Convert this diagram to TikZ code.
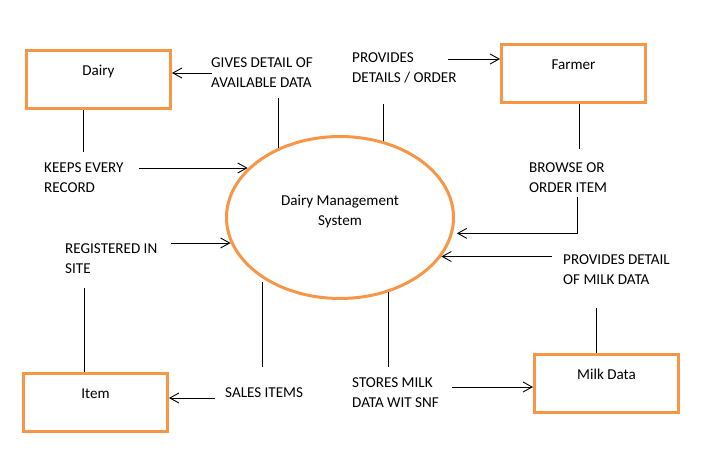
\documentclass[tikz,border=0pt]{standalone}
\usepackage{fontspec}
\setmainfont{Carlito}
\usetikzlibrary{arrows.meta,shapes.geometric}
\definecolor{boxorange}{HTML}{F79646}
\tikzset{
  entity/.style={draw=boxorange, line width=3pt, rectangle, minimum width=144pt, minimum height=58pt,
    inner xsep=0pt, inner ysep=4pt, text height=21pt, text depth=29pt},
  process/.style={draw=boxorange, line width=3pt, ellipse, minimum width=227pt, minimum height=162pt,
    inner sep=0pt, align=center, text depth=15pt},
  flowlabel/.style={anchor=north west, align=left, inner sep=0pt},
  flow/.style={-{Straight Barb[length=9pt,width=10pt]}, line width=0.9pt},
  plain/.style={line width=0.9pt}
}
\begin{document}
\begin{tikzpicture}[x=1pt,y=-1pt,font=\fontsize{15.1}{20}\selectfont]
        \useasboundingbox (0,0) rectangle (718,455);
        % the four entities and the system
        \node[entity]  (dairy)  at ( 98.5, 79.5) {Dairy};
        \node[entity]  (farmer) at (573.5, 73.5) {Farmer};
        \node[entity]  (item)   at ( 95.5,402.5) {Item};
        \node[entity]  (milk)   at (606.5,383.5) {Milk Data};
        \node[process] (sys)    at (340,217.5)   {Dairy Management\\System};
        % labels of the flows
        \node[flowlabel] (keeps)      at ( 44,162.3) {KEEPS EVERY\\RECORD};
        \node[flowlabel] (gives)      at (211, 57.3) {GIVES DETAIL OF\\AVAILABLE DATA};
        \node[flowlabel] (provides)   at (352, 52.3) {PROVIDES\\DETAILS / ORDER};
        \node[flowlabel] (browse)     at (529,162.3) {BROWSE OR\\ORDER ITEM};
        \node[flowlabel] (milkdetail) at (563,254.3) {PROVIDES DETAIL\\OF MILK DATA};
        \node[flowlabel] (registered) at ( 65,243.3) {REGISTERED IN\\SITE};
        \node[flowlabel] (sales)      at (225,387.3) {SALES ITEMS};
        \node[flowlabel] (stores)     at (352,377.3) {STORES MILK\\DATA WIT SNF};
        % free ends of the flow lines
        \coordinate (dairyline)      at ( 83,152);
        \coordinate (keepstail)      at (139,168);
        \coordinate (givestail)      at (212, 73);
        \coordinate (givesline)      at (278, 98);
        \coordinate (providestail)   at (448, 59);
        \coordinate (providesline)   at (383,104);
        \coordinate (farmerline)     at (579,149);
        \coordinate (browsetail)     at (577,197);
        \coordinate (milktail)       at (552,256.5);
        \coordinate (milkline)       at (596,308);
        \coordinate (registeredtail) at (171,243);
        \coordinate (itemline)       at ( 84,288);
        \coordinate (salesline)      at (262.5,367);
        \coordinate (salestail)      at (215,398);
        \coordinate (storesline)     at (388.5,367);
        \coordinate (storestail)     at (452,387);
        % drawing the flows
        \draw[plain] (dairyline)    -- (dairyline |- dairy.south);
        \draw[flow]  (keepstail)    -- (keepstail -| sys.152);
        \draw[flow]  (givestail)    -- (givestail -| dairy.east);
        \draw[plain] (givesline)    -- (givesline |- sys.132);
        \draw[flow]  (providestail) -- (providestail -| farmer.west);
        \draw[plain] (providesline) -- (providesline |- sys.61);
        \draw[plain] (farmerline)   -- (farmerline |- farmer.south);
        \draw[flow,shorten >=4pt] (browsetail) |- (sys.-8);
        \draw[flow]  (milktail)     -- (milktail -| sys.-21);
        \draw[plain] (milkline)     -- (milkline |- milk.north);
        \draw[flow]  (registeredtail) -- (registeredtail -| sys.193);
        \draw[plain] (itemline)     -- (itemline |- item.north);
        \draw[plain,shorten >=4pt] (salesline) -- (salesline |- sys.218);
        \draw[flow]  (salestail)    -- (salestail -| item.east);
        \draw[plain] (storesline)   -- (storesline |- sys.-57);
        \draw[flow]  (storestail)   -- (storestail -| milk.west);
\end{tikzpicture}
\end{document}
